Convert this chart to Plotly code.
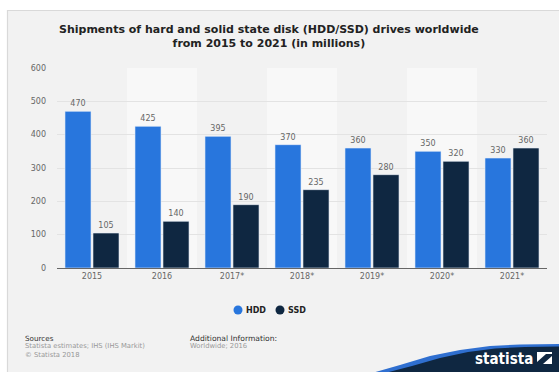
import plotly.graph_objects as go

categories = ["2015", "2016", "2017*", "2018*", "2019*", "2020*", "2021*"]
hdd = [470, 425, 395, 370, 360, 350, 330]
ssd = [105, 140, 190, 235, 280, 320, 360]
y_ticks = [0, 100, 200, 300, 400, 500, 600]
series_names = ["HDD", "SSD"]

W, H = 559, 372
L, R, T, B = 57, 12, 68, 104
PW, PH = W - L - R, H - T - B


def px(x):
    return (x - L) / PW


def py(y):
    return (H - B - y) / PH


HDD_C = "#2876dd"
SSD_C = "#0f2741"
FONT = "DejaVu Sans"

fig = go.Figure()
fig.add_trace(go.Bar(x=categories, y=hdd, name=series_names[0],
                     marker=dict(color=HDD_C, line=dict(color="#e8eef8", width=0.6)),
                     text=[str(v) for v in hdd], textposition="outside", cliponaxis=False,
                     textfont=dict(size=8, color="#666666", family=FONT), showlegend=False))
fig.add_trace(go.Bar(x=categories, y=ssd, name=series_names[1],
                     marker=dict(color=SSD_C, line=dict(color="#e8eef8", width=0.6)),
                     text=[str(v) for v in ssd], textposition="outside", cliponaxis=False,
                     textfont=dict(size=8, color="#666666", family=FONT), showlegend=False))

shapes = []
# outer panel
shapes.append(dict(type="rect", xref="paper", yref="paper", x0=px(7.5), x1=px(562), y0=py(375), y1=py(10.5),
                   fillcolor="#f2f2f2", line=dict(color="#d9d9d9", width=1.2), layer="below"))
# alternating bands
for i, c in enumerate(categories):
    if i % 2 == 1:
        shapes.append(dict(type="rect", xref="x", yref="paper", x0=i - 0.5, x1=i + 0.5, y0=0, y1=1,
                           fillcolor="#f8f8f8", line=dict(width=0), layer="below"))


def path(points):
    s = "M " + " L ".join(f"{px(a)},{py(b)}" for a, b in points) + " Z"
    return s


# statista swoosh (light blue edge then navy)
blue_pts = [(372, 373), (400, 365), (430, 356), (460, 350), (490, 346), (520, 344.5), (562, 344), (562, 373)]
navy_pts = [(385, 373), (412, 366), (440, 358), (468, 352), (495, 348.5), (525, 347), (562, 346.5), (562, 373)]
shapes.append(dict(type="path", xref="paper", yref="paper", path=path(blue_pts), fillcolor="#2f6fd0",
                   line=dict(width=0), layer="above"))
shapes.append(dict(type="path", xref="paper", yref="paper", path=path(navy_pts), fillcolor="#0f2741",
                   line=dict(width=0), layer="above"))
# logo icon
shapes.append(dict(type="rect", xref="paper", yref="paper", x0=px(537), x1=px(552), y0=py(364), y1=py(352),
                   fillcolor="white", line=dict(width=0), layer="above"))
icon_pts = [(537, 362), (546, 354), (552, 354), (552, 356), (543, 364), (537, 364)]
shapes.append(dict(type="path", xref="paper", yref="paper", path=path(icon_pts), fillcolor="#0f2741",
                   line=dict(width=0), layer="above"))

# legend (circle markers + bold labels)
legend_items = [(series_names[0], HDD_C, 238), (series_names[1], SSD_C, 280)]
annotations = []
for name, col, cx in legend_items:
    shapes.append(dict(type="circle", xref="paper", yref="paper", x0=px(cx - 4.5), x1=px(cx + 4.5),
                       y0=py(314.5), y1=py(305.5), fillcolor=col, line=dict(width=0), layer="above"))
    annotations.append(dict(x=px(cx + 6), y=py(310), xref="paper", yref="paper", xanchor="left",
                            yanchor="middle", showarrow=False, text=f"<b>{name}</b>",
                            font=dict(size=8, color="#222222", family=FONT)))

annotations += [
    dict(x=px(23), y=py(338), xref="paper", yref="paper", xanchor="left", yanchor="middle", showarrow=False,
         text="Sources", font=dict(size=7.2, color="#333333", family=FONT)),
    dict(x=px(23), y=py(350), xref="paper", yref="paper", xanchor="left", yanchor="middle", showarrow=False,
         text="Statista estimates; IHS (IHS Markit)<br>© Statista 2018", align="left",
         font=dict(size=6.8, color="#999999", family=FONT)),
    dict(x=px(188), y=py(338), xref="paper", yref="paper", xanchor="left", yanchor="middle", showarrow=False,
         text="Additional Information:", font=dict(size=7.6, color="#333333", family=FONT)),
    dict(x=px(188), y=py(346), xref="paper", yref="paper", xanchor="left", yanchor="middle", showarrow=False,
         text="Worldwide; 2016", font=dict(size=6.8, color="#999999", family=FONT)),
    dict(x=px(269), y=py(36), xref="paper", yref="paper", xanchor="center", yanchor="middle", showarrow=False,
         text="<b>Shipments of hard and solid state disk (HDD/SSD) drives worldwide<br>from 2015 to 2021 (in millions)</b>",
         font=dict(size=11, color="#222222", family=FONT), align="center"),
    dict(x=px(535), y=py(359), xref="paper", yref="paper", xanchor="right", yanchor="middle", showarrow=False,
         text="<b>statista</b>", font=dict(size=15, color="white", family="DejaVu Sans Condensed")),
]

fig.update_layout(
    width=W, height=H,
    margin=dict(l=L, r=R, t=T, b=B, pad=0),
    paper_bgcolor="white",
    plot_bgcolor="rgba(0,0,0,0)",
    barmode="group", bargap=0.2, bargroupgap=0.07,
    font=dict(family=FONT, color="#666666"),
    shapes=shapes,
    annotations=annotations,
    showlegend=False,
    xaxis=dict(showgrid=False, showline=True, linecolor="#666666", linewidth=1, ticks="",
               tickfont=dict(size=8, color="#666666"), fixedrange=True),
    yaxis=dict(range=[0, 600], tickvals=y_ticks, showgrid=True, gridcolor="#e3e3e3", gridwidth=1,
               zeroline=False, showline=False, ticks="", ticklabelstandoff=10,
               tickfont=dict(size=8, color="#666666"), fixedrange=True),
)

fig.write_html("out.html", config={"displayModeBar": False},
               post_script="document.body.style.margin='0';document.body.style.padding='0';")
